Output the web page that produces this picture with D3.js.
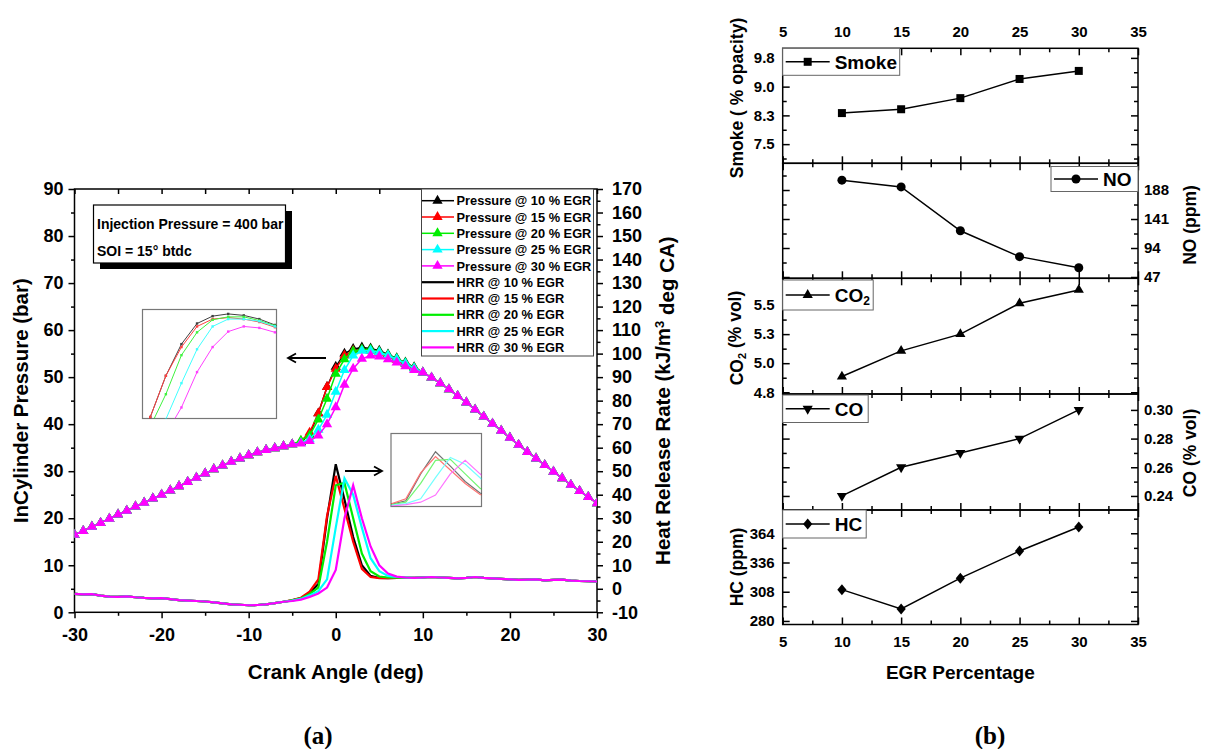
<!DOCTYPE html>
<html>
<head>
<meta charset="utf-8">
<script src="https://cdnjs.cloudflare.com/ajax/libs/d3/7.8.5/d3.min.js"></script>
<style>
body { margin: 0; background: #fff; }
text { font-family: "Liberation Sans", Arial, sans-serif; font-weight: bold; fill: #000; }
</style>
</head>
<body>
<div id="chart-area"></div>
<script>
/*
*    EGR study - pressure / HRR (a) and emissions vs EGR (b)
*/

// ---------- data : panel (a) ----------
var crankAngles = d3.range(-30, 31);
var egrLevels = [10, 15, 20, 25, 30];
var egrColors = ["#000000", "#ff0000", "#00ee00", "#00ffff", "#ff00ff"];

// cylinder pressure (bar), compression, -30..-5 deg (same for all EGR)
var pressureCompression = [16.5, 17.3, 18.2, 19.0, 19.9, 20.8, 21.6, 22.5, 23.3, 24.2,
	25.0, 25.9, 26.8, 27.7, 28.6, 29.5, 30.4, 31.2, 32.0, 32.7,
	33.4, 34.0, 34.5, 34.9, 35.3, 35.7];
// combustion, -4..9 deg, one row per EGR level
var pressureCombustion = [
	[36.2, 37.8, 42.3, 47.9, 52.2, 55.0, 56.0, 56.3, 56.1, 55.6, 54.8, 54.0, 53.1, 52.1],
	[36.4, 38.2, 42.3, 47.9, 51.8, 54.6, 55.6, 55.8, 55.6, 55.2, 54.5, 53.7, 52.8, 51.9],
	[36.5, 37.6, 41.0, 45.4, 50.7, 53.8, 55.5, 55.9, 55.9, 55.4, 54.7, 53.9, 53.0, 52.0],
	[36.0, 36.8, 38.8, 42.0, 46.9, 51.5, 54.6, 55.6, 55.6, 55.3, 54.6, 53.8, 52.9, 51.9],
	[35.9, 36.4, 37.6, 40.0, 43.6, 48.4, 51.8, 53.9, 54.6, 54.4, 53.8, 53.1, 52.3, 51.5]
];
// expansion, 10..30 deg
var pressureExpansion = [51.0, 49.9, 48.7, 47.4, 46.0, 44.6, 43.1, 41.6, 40.1, 38.6,
	37.1, 35.6, 34.1, 32.7, 31.3, 29.9, 28.5, 27.1, 25.8, 24.5, 23.2];

// heat release rate (kJ/m3 deg CA), -30..-6 deg
var hrrEarly = [-2.2, -2.4, -2.3, -2.9, -3.3, -3.4, -3.2, -3.6, -3.9, -4.1,
	-4.0, -4.4, -4.8, -5.0, -5.2, -5.4, -5.8, -6.2, -6.6, -6.8,
	-7.0, -6.9, -6.6, -6.1, -5.5];
// -5..8 deg, one row per EGR level
var hrrCombustion = [
	[-4.9, -4.0, -1.8, 2.0, 30, 53, 38, 22, 10, 5.5, 4.6, 4.5, 4.6, 4.7],
	[-4.8, -3.8, -1.2, 4.0, 31, 48, 34, 20, 8.5, 5.0, 4.5, 4.5, 4.6, 4.7],
	[-4.9, -4.1, -2.2, 0.5, 20, 44, 45, 30, 15, 7.5, 5.2, 4.8, 4.7, 4.7],
	[-5.0, -4.3, -2.8, -1.0, 4, 26, 47, 40, 26, 13, 7.5, 5.5, 5.0, 4.8],
	[-5.2, -4.6, -3.5, -2.0, 0.5, 8, 30, 44, 30, 18, 10, 6.5, 5.2, 4.8]
];
// 9..30 deg
var hrrLate = [4.6, 4.8, 5.0, 4.8, 4.6, 4.4, 4.6, 5.0, 4.6, 4.4, 4.2,
	4.0, 3.8, 3.9, 4.0, 3.6, 3.8, 3.9, 3.5, 3.3, 3.2, 3.1];

// ---------- data : panel (b) ----------
var egrPercent = [10, 15, 20, 25, 30];
var smokeOpacity = [8.31, 8.41, 8.70, 9.20, 9.41];
var noPpm = [204, 193, 122, 80, 62];
var co2Vol = [4.885, 5.106, 5.25, 5.515, 5.63];
var coVol = [0.24, 0.26, 0.27, 0.28, 0.30];
var hcPpm = [310, 291.5, 321, 347, 370];

var svg = d3.select("#chart-area")
	.append("svg")
		.attr("width", 1206)
		.attr("height", 749);

function styleAxis(g, size){
	g.select(".domain").remove();
	g.selectAll(".tick line").attr("stroke", "#000").attr("stroke-width", 1.5);
	g.selectAll(".tick text").style("font-size", size + "px");
}

//================ (a) =================
var plotA = {left: 74.5, right: 597, top: 189, bottom: 612.3};

var xAngle = d3.scaleLinear().domain([-30, 30]).range([plotA.left, plotA.right]);
var yPres = d3.scaleLinear().domain([0, 90]).range([plotA.bottom, plotA.top]);
var yHrr = d3.scaleLinear().domain([-10, 170]).range([plotA.bottom, plotA.top]);

var series = egrLevels.map(function(egr, i){
	return {
		egr: egr,
		color: egrColors[i],
		pressure: pressureCompression.concat(pressureCombustion[i], pressureExpansion),
		hrr: hrrEarly.concat(hrrCombustion[i], hrrLate)
	};
});

svg.append("clipPath").attr("id", "clipA")
	.append("rect")
		.attr("x", plotA.left).attr("y", plotA.top)
		.attr("width", plotA.right - plotA.left)
		.attr("height", plotA.bottom - plotA.top);

var gA = svg.append("g");

//x axis (bottom, outward) + minor
gA.append("g")
	.attr("transform", "translate(0," + plotA.bottom + ")")
	.call(d3.axisBottom(xAngle).tickValues(d3.range(-30, 31, 10)).tickSize(6).tickPadding(10)
		.tickFormat(function(d){ return String(d); }))
	.call(styleAxis, 18);
gA.append("g")
	.attr("transform", "translate(0," + plotA.bottom + ")")
	.call(d3.axisBottom(xAngle).tickValues(d3.range(-25, 30, 10)).tickSize(3.5).tickFormat(""))
	.call(styleAxis, 18);
//top (inward)
gA.append("g")
	.attr("transform", "translate(0," + plotA.top + ")")
	.call(d3.axisTop(xAngle).tickValues(d3.range(-30, 31, 5)).tickSize(-5).tickFormat(""))
	.call(styleAxis, 18);

//left axis
gA.append("g")
	.attr("transform", "translate(" + plotA.left + ",0)")
	.call(d3.axisLeft(yPres).tickValues(d3.range(0, 91, 10)).tickSize(6).tickPadding(5))
	.call(styleAxis, 18);
gA.append("g")
	.attr("transform", "translate(" + plotA.left + ",0)")
	.call(d3.axisLeft(yPres).tickValues(d3.range(5, 90, 10)).tickSize(3.5).tickFormat(""))
	.call(styleAxis, 18);

//right axis (HRR)
gA.append("g")
	.attr("transform", "translate(" + plotA.right + ",0)")
	.call(d3.axisRight(yHrr).tickValues(d3.range(-10, 171, 10)).tickSize(6).tickPadding(9)
		.tickFormat(function(d){ return String(d); }))
	.call(styleAxis, 18);
gA.append("g")
	.attr("transform", "translate(" + plotA.right + ",0)")
	.call(d3.axisRight(yHrr).tickValues(d3.range(-5, 170, 10)).tickSize(3.5).tickFormat(""))
	.call(styleAxis, 18);

gA.append("rect")
	.attr("x", plotA.left).attr("y", plotA.top)
	.attr("width", plotA.right - plotA.left)
	.attr("height", plotA.bottom - plotA.top)
	.attr("fill", "none").attr("stroke", "#000").attr("stroke-width", 1.5);

//Labels
gA.append("text")
	.attr("transform", "translate(21," + ((plotA.top + plotA.bottom) / 2) + ") rotate(-90)")
	.attr("text-anchor", "middle")
	.attr("dy", "0.35em")
	.style("font-size", "20.5px")
	.text("InCylinder Pressure (bar)");

var hrrTitle = gA.append("text")
	.attr("transform", "translate(663," + ((plotA.top + plotA.bottom) / 2) + ") rotate(-90)")
	.attr("text-anchor", "middle")
	.attr("dy", "0.35em")
	.style("font-size", "20.5px");
hrrTitle.append("tspan").text("Heat Release Rate (kJ/m");
hrrTitle.append("tspan").attr("dy", "-0.45em").style("font-size", "13px").text("3");
hrrTitle.append("tspan").attr("dy", "0.45em").text(" deg CA)");

gA.append("text")
	.attr("x", (plotA.left + plotA.right) / 2)
	.attr("y", 679)
	.attr("text-anchor", "middle")
	.style("font-size", "20.5px")
	.text("Crank Angle (deg)");

//curves
var curves = gA.append("g").attr("clip-path", "url(#clipA)");

var hrrLine = d3.line()
	.x(function(d, i){ return xAngle(crankAngles[i]); })
	.y(function(d){ return yHrr(d); });
var presLine = d3.line()
	.x(function(d, i){ return xAngle(crankAngles[i]); })
	.y(function(d){ return yPres(d); });

series.forEach(function(s){
	curves.append("path")
		.attr("d", hrrLine(s.hrr))
		.attr("fill", "none")
		.attr("stroke", s.color)
		.attr("stroke-width", 2.2);
});

var triangle = d3.symbol().type(d3.symbolTriangle).size(46);
series.forEach(function(s){
	curves.append("path")
		.attr("d", presLine(s.pressure))
		.attr("fill", "none")
		.attr("stroke", s.color)
		.attr("stroke-width", 1.5);
	curves.selectAll(null)
		.data(s.pressure)
		.enter()
		.append("path")
			.attr("d", triangle)
			.attr("transform", function(d, i){
				return "translate(" + xAngle(crankAngles[i]) + "," + yPres(d) + ")";
			})
			.attr("fill", s.color);
});

//info box with shadow
gA.append("rect").attr("x", 100).attr("y", 211).attr("width", 192).attr("height", 58).attr("fill", "#000");
gA.append("rect").attr("x", 93.5).attr("y", 205).attr("width", 192).attr("height", 58)
	.attr("fill", "#fff").attr("stroke", "#000").attr("stroke-width", 1.2);
gA.append("text").attr("x", 97).attr("y", 228.5).style("font-size", "14px").text("Injection Pressure = 400 bar");
gA.append("text").attr("x", 97).attr("y", 255.5).style("font-size", "14px").text("SOI = 15\u00b0 btdc");

//legend
var legend = gA.append("g");
legend.append("rect")
	.attr("x", 421.5).attr("y", plotA.top)
	.attr("width", 172).attr("height", 167)
	.attr("fill", "#fff").attr("stroke", "#444").attr("stroke-width", 1);

var legendRows = series.map(function(s){ return {s: s, kind: "Pressure"}; })
	.concat(series.map(function(s){ return {s: s, kind: "HRR"}; }));

legendRows.forEach(function(r, i){
	var row = legend.append("g")
		.attr("transform", "translate(0," + (200.7 + i * 16.3) + ")");
	row.append("line")
		.attr("x1", 422).attr("x2", 454)
		.attr("stroke", r.s.color)
		.attr("stroke-width", r.kind == "HRR" ? 2.2 : 1.5);
	if (r.kind == "Pressure"){
		row.append("path").attr("d", triangle).attr("transform", "translate(437.5,0)").attr("fill", r.s.color);
	}
	row.append("text")
		.attr("x", 456.5)
		.attr("dy", "0.36em")
		.style("font-size", "12.8px")
		.text(r.kind + " @ " + r.s.egr + " % EGR");
});

//zoom inset of pressure peak
var inset1 = {left: 142.5, right: 276.5, top: 309.5, bottom: 418.5};
var xIn1 = d3.scaleLinear().domain([-2.5, 6.1]).range([inset1.left, inset1.right]);
var yIn1 = d3.scaleLinear().domain([42.1, 56.9]).range([inset1.bottom, inset1.top]);
svg.append("clipPath").attr("id", "clipIn1")
	.append("rect").attr("x", inset1.left).attr("y", inset1.top)
	.attr("width", inset1.right - inset1.left).attr("height", inset1.bottom - inset1.top);
gA.append("rect").attr("x", inset1.left).attr("y", inset1.top)
	.attr("width", inset1.right - inset1.left).attr("height", inset1.bottom - inset1.top)
	.attr("fill", "#fff").attr("stroke", "#777").attr("stroke-width", 1.2);
var in1 = gA.append("g").attr("clip-path", "url(#clipIn1)").attr("opacity", 0.75);
series.forEach(function(s){
	in1.append("path")
		.attr("d", d3.line()
			.x(function(d, i){ return xIn1(crankAngles[i]); })
			.y(function(d){ return yIn1(d); })(s.pressure))
		.attr("fill", "none").attr("stroke", s.color).attr("stroke-width", 1);
	in1.selectAll(null).data(s.pressure).enter()
		.append("rect")
			.attr("x", function(d, i){ return xIn1(crankAngles[i]) - 1.2; })
			.attr("y", function(d){ return yIn1(d) - 1.2; })
			.attr("width", 2.4).attr("height", 2.4)
			.attr("fill", s.color);
});

//zoom inset of HRR peak
var inset2 = {left: 391, right: 481.5, top: 433.5, bottom: 506.5};
var xIn2 = d3.scaleLinear().domain([-3, 3.1]).range([inset2.left, inset2.right]);
var yIn2 = d3.scaleLinear().domain([-4, 72]).range([inset2.bottom, inset2.top]);
svg.append("clipPath").attr("id", "clipIn2")
	.append("rect").attr("x", inset2.left).attr("y", inset2.top)
	.attr("width", inset2.right - inset2.left).attr("height", inset2.bottom - inset2.top);
gA.append("rect").attr("x", inset2.left).attr("y", inset2.top)
	.attr("width", inset2.right - inset2.left).attr("height", inset2.bottom - inset2.top)
	.attr("fill", "#fff").attr("stroke", "#777").attr("stroke-width", 1.2);
var in2 = gA.append("g").attr("clip-path", "url(#clipIn2)").attr("opacity", 0.55);
series.forEach(function(s){
	in2.append("path")
		.attr("d", d3.line()
			.x(function(d, i){ return xIn2(crankAngles[i]); })
			.y(function(d){ return yIn2(d); })(s.hrr))
		.attr("fill", "none").attr("stroke", s.color).attr("stroke-width", 1.2);
});

//arrows
gA.append("path")
	.attr("d", "M326,358 L288,358 M296,353.5 L288,358 L296,362.5")
	.attr("fill", "none").attr("stroke", "#000").attr("stroke-width", 1.8);
gA.append("path")
	.attr("d", "M345,471 L382,471 M374,466.5 L382,471 L374,475.5")
	.attr("fill", "none").attr("stroke", "#000").attr("stroke-width", 1.8);

//================ (b) =================
var panelLeft = 782.7, panelRight = 1138;
var xEgr = d3.scaleLinear().domain([5, 35]).range([panelLeft, panelRight]);

var diamond = function(){ return "M0,-5.5L4.6,0L0,5.5L-4.6,0Z"; };

var panels = [
	{values: smokeOpacity, top: 48.3, bottom: 163.3, domain: [7, 10],
		major: [7.5, 8.25, 9, 9.75], minor: [7.125, 7.875, 8.625, 9.375], fmt: ".1f", side: "left",
		symbol: d3.symbol().type(d3.symbolSquare).size(64), rotate: 0,
		title: ["Smoke ( % opacity)"], titleY: 98,
		legend: {x: 782.7, y: 48.3, w: 117, h: 27, label: "Smoke"}},
	{values: noPpm, top: 163.3, bottom: 278.3, domain: [44.9, 231.3],
		major: [47, 94, 141, 188], minor: [70.5, 117.5, 164.5, 211.5], fmt: "d", side: "right",
		symbol: d3.symbol().type(d3.symbolCircle).size(64), rotate: 0,
		title: ["NO (ppm)"], titleY: 225,
		legend: {x: 1051, y: 166.5, w: 87, h: 25, label: "NO"}},
	{values: co2Vol, top: 278.3, bottom: 394, domain: [4.735, 5.73],
		major: [4.75, 5, 5.25, 5.5], minor: [4.875, 5.125, 5.375, 5.625], fmt: ".1f", side: "left",
		symbol: d3.symbol().type(d3.symbolTriangle).size(45), rotate: 0,
		title: ["CO", "2", " (% vol)"], titleY: 338,
		legend: {x: 782.7, y: 280, w: 90.5, h: 30, label: "CO2"}},
	{values: coVol, top: 394, bottom: 510, domain: [0.2302, 0.3111],
		major: [0.24, 0.26, 0.28, 0.30], minor: [0.25, 0.27, 0.29], fmt: ".2f", side: "right",
		symbol: d3.symbol().type(d3.symbolTriangle).size(45), rotate: 180,
		title: ["CO (% vol)"], titleY: 453,
		legend: {x: 782.7, y: 395, w: 85.5, h: 27.5, label: "CO"}},
	{values: hcPpm, top: 510, bottom: 624.5, domain: [276.6, 386.3],
		major: [280, 308, 336, 364], minor: [294, 322, 350, 378], fmt: "d", side: "left",
		symbol: diamond, rotate: 0,
		title: ["HC (ppm)"], titleY: 567,
		legend: {x: 782.7, y: 510, w: 83.5, h: 28, label: "HC"}}
];

panels.forEach(function(p, k){
	var g = svg.append("g");
	var y = d3.scaleLinear().domain(p.domain).range([p.bottom, p.top]);

	//x ticks (inward, top and bottom)
	var topAxis = d3.axisTop(xEgr).tickValues(d3.range(5, 36, 5)).tickSize(-7).tickPadding(11)
		.tickFormat(k == 0 ? function(d){ return String(d); } : "");
	g.append("g").attr("transform", "translate(0," + p.top + ")").call(topAxis).call(styleAxis, 15);
	g.append("g").attr("transform", "translate(0," + p.top + ")")
		.call(d3.axisTop(xEgr).tickValues(d3.range(7.5, 35, 5)).tickSize(-4).tickFormat(""))
		.call(styleAxis, 15);
	var botAxis = d3.axisBottom(xEgr).tickValues(d3.range(5, 36, 5)).tickSize(-7).tickPadding(12)
		.tickFormat(k == panels.length - 1 ? function(d){ return String(d); } : "");
	g.append("g").attr("transform", "translate(0," + p.bottom + ")").call(botAxis).call(styleAxis, 15);
	g.append("g").attr("transform", "translate(0," + p.bottom + ")")
		.call(d3.axisBottom(xEgr).tickValues(d3.range(7.5, 35, 5)).tickSize(-4).tickFormat(""))
		.call(styleAxis, 15);

	//y ticks (inward, both sides), labels on one side
	var fmt = d3.format(p.fmt);
	g.append("g").attr("transform", "translate(" + panelLeft + ",0)")
		.call(d3.axisLeft(y).tickValues(p.major).tickSize(-7).tickPadding(8)
			.tickFormat(p.side == "left" ? fmt : ""))
		.call(styleAxis, 15);
	g.append("g").attr("transform", "translate(" + panelLeft + ",0)")
		.call(d3.axisLeft(y).tickValues(p.minor).tickSize(-4).tickFormat(""))
		.call(styleAxis, 15);
	g.append("g").attr("transform", "translate(" + panelRight + ",0)")
		.call(d3.axisRight(y).tickValues(p.major).tickSize(-7).tickPadding(6)
			.tickFormat(p.side == "right" ? fmt : ""))
		.call(styleAxis, 15);
	g.append("g").attr("transform", "translate(" + panelRight + ",0)")
		.call(d3.axisRight(y).tickValues(p.minor).tickSize(-4).tickFormat(""))
		.call(styleAxis, 15);

	g.append("rect")
		.attr("x", panelLeft).attr("y", p.top)
		.attr("width", panelRight - panelLeft).attr("height", p.bottom - p.top)
		.attr("fill", "none").attr("stroke", "#000").attr("stroke-width", 1.5);

	//legend
	var L = p.legend;
	var lg = g.append("g");
	lg.append("rect").attr("x", L.x).attr("y", L.y).attr("width", L.w).attr("height", L.h)
		.attr("fill", "#fff").attr("stroke", "#666").attr("stroke-width", 1);
	var ly = L.y + L.h / 2;
	lg.append("line").attr("x1", L.x + 3).attr("x2", L.x + 47).attr("y1", ly).attr("y2", ly)
		.attr("stroke", "#000").attr("stroke-width", 1.5);
	lg.append("path").attr("d", p.symbol)
		.attr("transform", "translate(" + (L.x + 25) + "," + ly + ") rotate(" + p.rotate + ")");
	var lt = lg.append("text").attr("x", L.x + 52).attr("y", ly).attr("dy", "0.36em")
		.style("font-size", "19px");
	if (L.label == "CO2"){
		lt.append("tspan").text("CO");
		lt.append("tspan").attr("dy", "0.3em").style("font-size", "12px").text("2");
	} else {
		lt.text(L.label);
	}

	//line + markers
	g.append("path")
		.attr("d", d3.line()
			.x(function(d, i){ return xEgr(egrPercent[i]); })
			.y(function(d){ return y(d); })(p.values))
		.attr("fill", "none").attr("stroke", "#000").attr("stroke-width", 1.5);
	g.selectAll(null).data(p.values).enter()
		.append("path")
			.attr("d", p.symbol)
			.attr("transform", function(d, i){
				return "translate(" + xEgr(egrPercent[i]) + "," + y(d) + ") rotate(" + p.rotate + ")";
			});

	//axis title
	var tx = p.side == "left" ? 737 : 1190;
	var t = g.append("text")
		.attr("transform", "translate(" + tx + "," + p.titleY + ") rotate(-90)")
		.attr("text-anchor", "middle")
		.attr("dy", "0.35em")
		.style("font-size", "17.5px");
	if (p.title.length == 3){
		t.append("tspan").text(p.title[0]);
		t.append("tspan").attr("dy", "0.3em").style("font-size", "11px").text(p.title[1]);
		t.append("tspan").attr("dy", "-0.3em").text(p.title[2]);
	} else {
		t.text(p.title[0]);
	}
});

svg.append("text")
	.attr("x", (panelLeft + panelRight) / 2)
	.attr("y", 679)
	.attr("text-anchor", "middle")
	.style("font-size", "19px")
	.text("EGR Percentage");

//panel captions
svg.append("text").attr("x", 318).attr("y", 744).attr("text-anchor", "middle")
	.style("font-family", "'Liberation Serif', 'Times New Roman', serif").style("font-size", "25px").text("(a)");
svg.append("text").attr("x", 990).attr("y", 744).attr("text-anchor", "middle")
	.style("font-family", "'Liberation Serif', 'Times New Roman', serif").style("font-size", "25px").text("(b)");
</script>
</body>
</html>
